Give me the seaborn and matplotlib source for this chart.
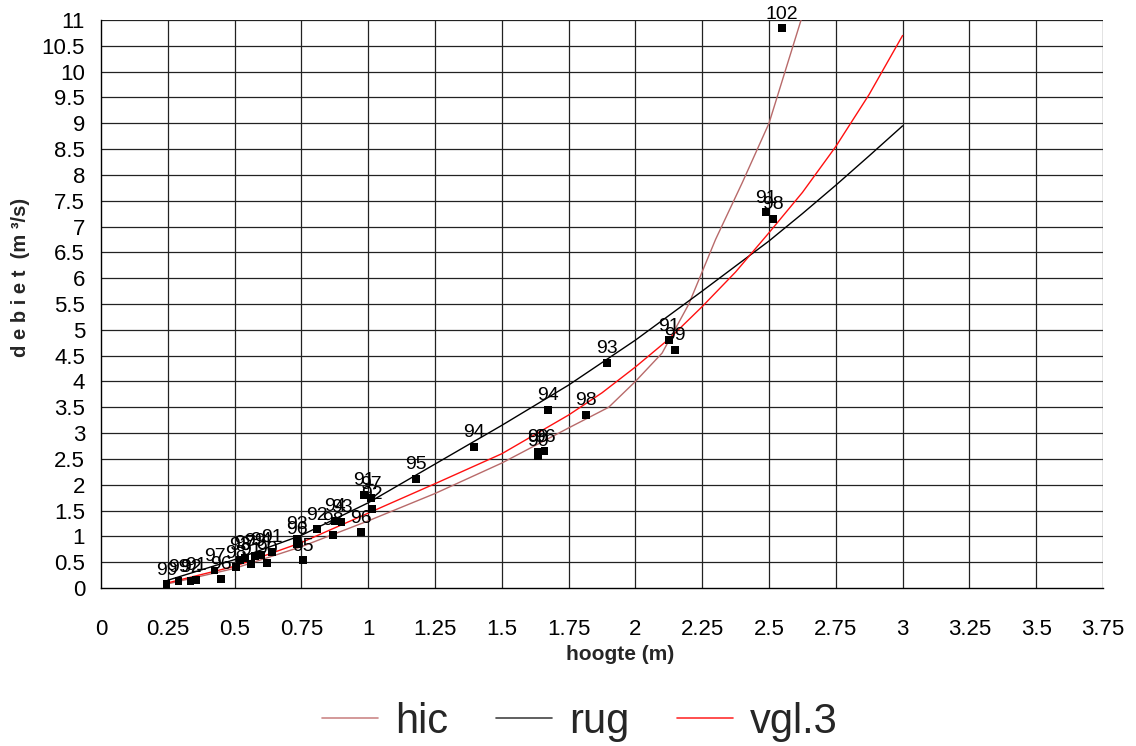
import matplotlib
matplotlib.use("Agg")
import matplotlib.pyplot as plt
import seaborn as sns
import numpy as np
import pandas as pd
from matplotlib.ticker import MultipleLocator
from matplotlib.lines import Line2D

# ---------------- data ----------------
obs_h = [0.245, 0.29, 0.335, 0.355, 0.425, 0.448, 0.505, 0.52, 0.54, 0.56,
         0.575, 0.60, 0.62, 0.64, 0.733, 0.735, 0.756, 0.808, 0.868, 0.875,
         0.90, 0.973, 0.985, 1.01, 1.015, 1.178, 1.395, 1.635, 1.66, 1.635,
         1.672, 1.814, 1.893, 2.125, 2.147, 2.49, 2.514, 2.548]
obs_q = [0.07, 0.13, 0.13, 0.16, 0.34, 0.18, 0.40, 0.55, 0.58, 0.46,
         0.62, 0.64, 0.48, 0.70, 0.95, 0.86, 0.54, 1.14, 1.03, 1.30,
         1.28, 1.08, 1.80, 1.74, 1.53, 2.11, 2.73, 2.64, 2.65, 2.56,
         3.45, 3.35, 4.36, 4.80, 4.61, 7.28, 7.15, 10.84]
obs_lab = ["99", "99", "92", "91", "97", "96", "98", "93", "97", "91",
           "99", "94", "90", "91", "93", "96", "95", "92", "98", "94",
           "93", "96", "91", "97", "92", "95", "94", "99", "96", "90",
           "94", "98", "93", "91", "99", "91", "98", "102"]

hic_h = [0.25, 0.5, 0.75, 1.0, 1.25, 1.5, 1.75, 1.9, 2.0, 2.1, 2.2, 2.3, 2.4, 2.5, 2.62]
hic_q = [0.08, 0.38, 0.80, 1.30, 1.83, 2.42, 3.10, 3.50, 4.00, 4.55, 5.50, 6.75, 7.85, 9.00, 11.0]

rug_h = [0.25, 0.5, 0.75, 1.0, 1.25, 1.5, 1.75, 2.0, 2.25, 2.5, 2.625, 2.75, 2.875, 3.0]
rug_q = [0.15, 0.55, 1.02, 1.65, 2.40, 3.15, 3.93, 4.80, 5.75, 6.72, 7.25, 7.80, 8.37, 8.95]

vgl_h = [0.25, 0.5, 0.75, 1.0, 1.25, 1.5, 1.75, 1.875, 2.0, 2.125, 2.25, 2.375,
         2.5, 2.625, 2.75, 2.875, 3.0]
vgl_q = [0.10, 0.42, 0.88, 1.45, 2.02, 2.60, 3.35, 3.78, 4.28, 4.82, 5.45, 6.12,
         6.88, 7.66, 8.55, 9.56, 10.70]

x_ticks = [0, 0.25, 0.5, 0.75, 1, 1.25, 1.5, 1.75, 2, 2.25, 2.5, 2.75, 3, 3.25, 3.5, 3.75]
x_tick_labels = ["0", "0.25", "0.5", "0.75", "1", "1.25", "1.5", "1.75", "2",
                 "2.25", "2.5", "2.75", "3", "3.25", "3.5", "3.75"]
y_ticks = [0, 0.5, 1, 1.5, 2, 2.5, 3, 3.5, 4, 4.5, 5, 5.5, 6, 6.5, 7, 7.5, 8,
           8.5, 9, 9.5, 10, 10.5, 11]
y_tick_labels = ["0", "0.5", "1", "1.5", "2", "2.5", "3", "3.5", "4", "4.5", "5",
                 "5.5", "6", "6.5", "7", "7.5", "8", "8.5", "9", "9.5", "10",
                 "10.5", "11"]

# ---------------- style ----------------
sns.set_style("white")
plt.rcParams["font.family"] = ["Liberation Sans", "DejaVu Sans"]

W, H = 1136, 746
fig = plt.figure(figsize=(W / 100, H / 100), dpi=100)
x0, x1 = 101, 1103
y0, y1 = 588, 20
ax = fig.add_axes([x0 / W, 1 - y0 / H, (x1 - x0) / W, (y0 - y1) / H])
ax.set_xlim(0, 3.75)
ax.set_ylim(0, 11)

# grid
for xv in x_ticks[1:]:
    ax.axvline(xv, color="#222222", lw=0.9, zorder=0)
for yv in y_ticks[1:]:
    ax.axhline(yv, color="#222222", lw=0.9, zorder=0)

# curves
curves = pd.concat([
    pd.DataFrame({"h": hic_h, "q": hic_q, "reeks": "hic"}),
    pd.DataFrame({"h": rug_h, "q": rug_q, "reeks": "rug"}),
    pd.DataFrame({"h": vgl_h, "q": vgl_q, "reeks": "vgl.3"}),
])
palette = {"hic": "#b86a6a", "rug": "#000000", "vgl.3": "#ff1010"}
sns.lineplot(data=curves, x="h", y="q", hue="reeks", palette=palette,
             sort=False, estimator=None, lw=1.0, ax=ax, legend=False, zorder=3)

# observations
obs = pd.DataFrame({"h": obs_h, "q": obs_q, "lab": obs_lab})
sns.scatterplot(data=obs, x="h", y="q", marker="s", color="black", s=32,
                edgecolor="none", ax=ax, zorder=4, legend=False)
for hx, qy, lb in zip(obs_h, obs_q, obs_lab):
    ax.annotate(lb, (hx, qy), xytext=(0, 4), textcoords="offset points",
                ha="center", va="bottom", fontsize=14, color="black", zorder=5,
                annotation_clip=False)

# axes / ticks
for s in ["top", "right"]:
    ax.spines[s].set_visible(False)
for s in ["left", "bottom"]:
    ax.spines[s].set_color("black")
    ax.spines[s].set_linewidth(1.0)

ax.set_xticks(x_ticks)
ax.set_xticklabels(x_tick_labels, fontsize=16,
                   family=["Liberation Sans Narrow", "Liberation Sans"])
ax.xaxis.set_minor_locator(MultipleLocator(0.125))
ax.tick_params(axis="x", which="major", direction="inout", length=16,
               width=0.9, pad=14, colors="black")
ax.tick_params(axis="x", which="minor", direction="inout", length=16,
               width=0.9, colors="black")

ax.set_yticks(y_ticks)
ax.set_yticklabels(y_tick_labels, fontsize=16)
ax.yaxis.set_minor_locator(MultipleLocator(0.25))
ax.tick_params(axis="y", which="major", direction="out", length=9.5,
               width=0.9, pad=2, colors="black")
ax.tick_params(axis="y", which="minor", direction="inout", length=10,
               width=0.9, colors="black")
ax.set_xlabel("")
ax.set_ylabel("")

fig.text(620 / W, 1 - 655 / H, "hoogte (m)", ha="center", va="center",
         fontsize=15, fontweight="bold",
         family=["Liberation Sans Narrow", "Liberation Sans"])
fig.text(21 / W, 1 - 277 / H, "d e b i e t  (m ³/s)", ha="center", va="center",
         rotation=90, fontsize=14.5, fontweight="bold")

# legend
handles = [Line2D([], [], color="#cc8888", lw=1.2),
           Line2D([], [], color="#444444", lw=1.2),
           Line2D([], [], color="#ff3030", lw=1.2)]
fig.legend(handles, ["hic", "rug", "vgl.3"], loc="center",
           bbox_to_anchor=(580 / W, 1 - 722 / H), ncol=3, frameon=False,
           fontsize=30, handlelength=1.35, handletextpad=0.4,
           columnspacing=1.15)

fig.savefig("out.png", dpi=100)
